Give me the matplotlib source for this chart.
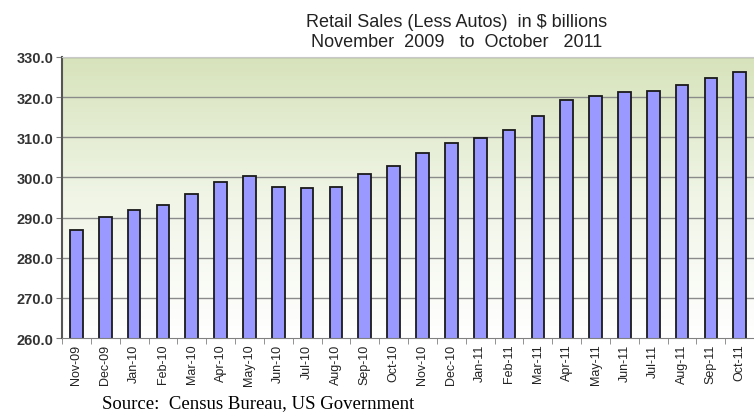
import numpy as np
import matplotlib
matplotlib.use("Agg")
import matplotlib.pyplot as plt
from matplotlib.colors import LinearSegmentedColormap

# monthly retail sales less autos, $ billions
months = ["Nov-09", "Dec-09", "Jan-10", "Feb-10", "Mar-10", "Apr-10",
          "May-10", "Jun-10", "Jul-10", "Aug-10", "Sep-10", "Oct-10",
          "Nov-10", "Dec-10", "Jan-11", "Feb-11", "Mar-11", "Apr-11",
          "May-11", "Jun-11", "Jul-11", "Aug-11", "Sep-11", "Oct-11"]
sales = [287.0, 290.2, 291.8, 293.1, 295.8, 298.8,
         300.4, 297.5, 297.4, 297.7, 300.9, 302.9,
         306.0, 308.6, 309.8, 311.8, 315.4, 319.2,
         320.4, 321.3, 321.6, 322.9, 324.7, 326.3]
y_ticks = [260, 270, 280, 290, 300, 310, 320, 330]

fig = plt.figure(figsize=(7.54, 4.14), dpi=100)
ax = fig.add_axes([0.0822, 0.181, 0.918, 0.679])

x = np.arange(len(months))
ax.set_xlim(-0.5, len(months) - 0.5)
ax.set_ylim(260, 330)

# green-to-white gradient background like the old Excel chart
cmap = LinearSegmentedColormap.from_list("bg", ["#ffffff", "#f0f5e6", "#d7e3bb"])
grad = np.linspace(0, 1, 256).reshape(-1, 1)
ax.imshow(grad, extent=[-0.5, len(months) - 0.5, 260, 330], origin="lower",
          aspect="auto", cmap=cmap, zorder=0)

for t in y_ticks[1:]:
    ax.axhline(t, color="#8a8a8a", lw=1.0, zorder=1)

ax.bar(x, sales, width=0.44, color="#9999ff", edgecolor="#1a1a1a",
       linewidth=1.3, zorder=2)

ax.set_yticks(y_ticks)
ax.set_yticklabels([f"{v:.1f}" for v in y_ticks], fontsize=10.5,
                   fontfamily="Liberation Sans", fontweight="bold", color="#333333")
ax.set_xticks(x)
ax.set_xticklabels(months, rotation=90, fontsize=9,
                   fontfamily="Liberation Sans", color="#222222")
ax.set_xticks(np.arange(len(months) + 1) - 0.5, minor=True)
ax.tick_params(axis="x", which="major", length=0, pad=4)
ax.tick_params(axis="x", which="minor", length=4, color="#808080")
ax.tick_params(axis="y", length=4, color="#808080", pad=2)

ax.spines["right"].set_visible(False)
ax.spines["top"].set_color("#c8c8c8")
ax.spines["left"].set_color("#555555")
ax.spines["left"].set_linewidth(1.5)
ax.spines["bottom"].set_color("#808080")

fig.text(0.605, 0.945, "Retail Sales (Less Autos)  in $ billions",
         ha="center", va="center", fontsize=13, fontfamily="Liberation Sans",
         color="#222222")
fig.text(0.605, 0.898, "November  2009   to  October   2011",
         ha="center", va="center", fontsize=13, fontfamily="Liberation Sans",
         color="#222222")
fig.text(0.135, 0.026, "Source:  Census Bureau, US Government",
         ha="left", va="center", fontsize=13.5, fontfamily="Liberation Serif",
         color="#000000")

fig.savefig("out.png", dpi=100)
